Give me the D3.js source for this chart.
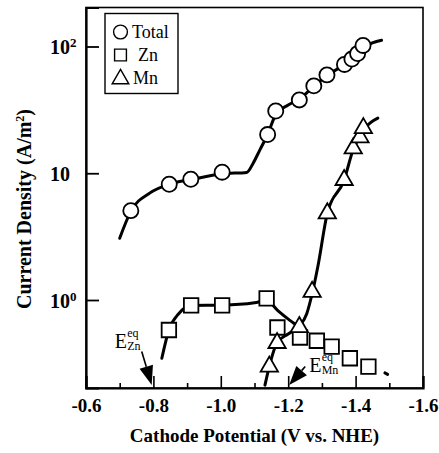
<!DOCTYPE html>
<html><head><meta charset="utf-8">
<script src="https://cdn.jsdelivr.net/npm/d3@7"></script>
<style>body{margin:0;background:#fff}svg{display:block}</style>
</head><body><svg id="c" width="439" height="453"></svg>
<script>
// ---- data ----
const totalPts = [[-0.733,5.07],[-0.847,8.19],[-0.911,8.97],[-1.004,10.2],[-1.139,20.2],[-1.163,31.0],[-1.233,37.9],[-1.276,48.9],[-1.315,59.7],[-1.367,72.2],[-1.389,79.6],[-1.406,87.9],[-1.422,102]];
const totalCurve = [[-0.700,3.07],[-0.733,5.0],[-0.79,7.0],[-0.847,8.2],[-0.911,8.9],[-1.004,9.9],[-1.077,10.15],[-1.096,12.0],[-1.116,15.3],[-1.139,20.2],[-1.163,29],[-1.20,34.5],[-1.233,38.5],[-1.276,48.5],[-1.315,59],[-1.367,72],[-1.406,87],[-1.43,100],[-1.477,112]];
const znPts = [[-0.846,0.58],[-0.912,0.908],[-1.004,0.908],[-1.136,1.03],[-1.168,0.607],[-1.235,0.506],[-1.285,0.477],[-1.329,0.428],[-1.383,0.347],[-1.438,0.298]];
const znCurve = [[-0.825,0.347],[-0.846,0.58],[-0.875,0.78],[-0.912,0.905],[-1.004,0.91],[-1.10,0.95],[-1.136,0.99],[-1.17,0.82],[-1.205,0.69],[-1.233,0.61]];
const znTail = [[-1.487,0.266],[-1.495,0.259]];
const mnPts = [[-1.144,0.298],[-1.167,0.458],[-1.233,0.612],[-1.271,1.16],[-1.316,4.83],[-1.366,8.85],[-1.393,15.7],[-1.413,19.2],[-1.423,22.7]];
const mnCurve = [[-1.131,0.213],[-1.144,0.30],[-1.167,0.46],[-1.20,0.54],[-1.233,0.62],[-1.255,0.78],[-1.271,1.12],[-1.289,1.9],[-1.316,4.83],[-1.366,8.85],[-1.393,15.4],[-1.413,19.6],[-1.43,23],[-1.466,27.2]];
const xMajor = [-0.6,-0.8,-1.0,-1.2,-1.4,-1.6];
const xMajorLabels = ["-0.6","-0.8","-1.0","-1.2","-1.4","-1.6"];
const xMinor = [-0.7,-0.9,-1.1,-1.3,-1.5];
const yTicks = [1,10,100];
const yTickBase = ["10","10","10"];
const yTickSup = ["0","","2"];
const legendNames = ["Total","Zn","Mn"];
const eqNames = ["Zn","Mn"];
const eqPotentials = [-0.795,-1.203];

// ---- layout ----
const L=86,R=423,T=7.5,B=388;
const svg=d3.select("#c");
const x=d3.scaleLinear().domain([-0.6,-1.6]).range([L,R]);
const dec=126.75;
const y=d3.scaleLog().domain([Math.pow(10,-(B-300)/dec),Math.pow(10,2+(46.5-T)/dec)]).range([B,T]);
const serif="'Liberation Serif','Times New Roman',serif";

// frame
svg.append("rect").attr("x",L).attr("y",T).attr("width",R-L).attr("height",B-T)
  .attr("fill","none").attr("stroke","#000").attr("stroke-width",1.6);

// x axis
const gx=svg.append("g").attr("transform",`translate(0,${B})`)
  .call(d3.axisBottom(x).tickValues(xMajor).tickSize(-12).tickPadding(11).tickFormat((d,i)=>xMajorLabels[i]));
gx.select(".domain").attr("stroke-width",2.2);
gx.selectAll(".tick line").attr("stroke-width",1.6);
gx.selectAll("text").attr("font-family",serif).attr("font-weight","bold").attr("font-size",19);
const gxm=svg.append("g").attr("transform",`translate(0,${B})`)
  .call(d3.axisBottom(x).tickValues(xMinor).tickSize(-5).tickFormat(""));
gxm.select(".domain").remove();
gxm.selectAll(".tick line").attr("stroke-width",1.6);

// y axis
const gy=svg.append("g").attr("transform",`translate(${L},0)`)
  .call(d3.axisLeft(y).tickValues(yTicks).tickSize(-13).tickFormat(""));
gy.select(".domain").attr("stroke-width",2.2);
gy.selectAll(".tick line").attr("stroke-width",1.8);
gy.selectAll(".tick").each(function(d,i){
  const t=d3.select(this).append("text").attr("x",-36).attr("dy","0.35em")
    .attr("text-anchor","start").attr("font-family",serif).attr("font-weight","bold")
    .attr("font-size",20).attr("fill","#000");
  t.append("tspan").text(yTickBase[i]);
  if(yTickSup[i]) t.append("tspan").attr("dy",-7).attr("font-size",13).text(yTickSup[i]);
});

// axis titles
svg.append("text").attr("x",(L+R)/2).attr("y",442).attr("text-anchor","middle")
  .attr("font-family",serif).attr("font-weight","bold").attr("font-size",19)
  .text("Cathode Potential (V vs. NHE)");
const yl=svg.append("text").attr("transform",`translate(31,209) rotate(-90)`).attr("text-anchor","middle")
  .attr("font-family",serif).attr("font-weight","bold").attr("font-size",20);
yl.append("tspan").text("Current Density (A/m");
yl.append("tspan").attr("dy",-7).attr("font-size",12).text("2");
yl.append("tspan").attr("dy",7).text(")");

// curves
const line=d3.line().x(d=>x(d[0])).y(d=>y(d[1])).curve(d3.curveMonotoneX);
[[totalCurve,3],[znCurve,3],[mnCurve,3],[znTail,3]].forEach(([c,w])=>{
  svg.append("path").attr("d",line(c)).attr("fill","none").attr("stroke","#000")
    .attr("stroke-width",w).attr("stroke-linecap","round");
});

// markers
const sym={circle:d3.symbol().type(d3.symbolCircle).size(180),
  square:d3.symbol().type(d3.symbolSquare).size(210),
  tri:d3.symbol().type(d3.symbolTriangle).size(130)};
function marks(pts,s){
  svg.append("g").selectAll("path").data(pts).join("path")
    .attr("transform",d=>`translate(${x(d[0])},${y(d[1])})`)
    .attr("d",s).attr("fill","#fff").attr("stroke","#000").attr("stroke-width",1.8);
}
marks(znPts,sym.square);
marks(totalPts,sym.circle);
marks(mnPts,sym.tri);

// legend
svg.append("rect").attr("x",105).attr("y",13.5).attr("width",73).attr("height",80)
  .attr("fill","#fff").attr("stroke","#000").attr("stroke-width",1.4);
const legSyms=[d3.symbol().type(d3.symbolCircle).size(150),d3.symbol().type(d3.symbolSquare).size(140),d3.symbol().type(d3.symbolTriangle).size(120)];
const legTx=[132,138,133];
legendNames.forEach((n,i)=>{
  const cy=32+i*23;
  svg.append("path").attr("transform",`translate(120.5,${cy+(i==2?1:0)})`).attr("d",legSyms[i]())
    .attr("fill","#fff").attr("stroke","#000").attr("stroke-width",1.4);
  svg.append("text").attr("x",legTx[i]).attr("y",cy+6).attr("font-family",serif)
    .attr("font-size",18).text(n);
});

// equilibrium potential annotations
const arrows=[{tail:[-10,-33.5],txt:[-37,-37]},{tail:[16,-18.5],txt:[20,-13.5]}];
eqPotentials.forEach((v,i)=>{
  const tx=x(v), ty=B-3;
  const a=arrows[i];
  const sx=tx+a.tail[0], sy=ty+a.tail[1];
  const dx=tx-sx, dy=ty-sy, len=Math.hypot(dx,dy), ux=dx/len, uy=dy/len;
  const hl=19, hw=7;
  const bx=tx-ux*hl, by=ty-uy*hl;
  svg.append("line").attr("x1",sx).attr("y1",sy).attr("x2",bx).attr("y2",by)
    .attr("stroke","#000").attr("stroke-width",1.6);
  svg.append("path").attr("d",`M${tx},${ty}L${bx-uy*hw},${by+ux*hw}L${bx+uy*hw},${by-ux*hw}Z`).attr("fill","#000");
  const ex=tx+a.txt[0], ey=ty+a.txt[1];
  const g=svg.append("text").attr("font-family",serif).attr("font-size",20);
  g.append("tspan").attr("x",ex).attr("y",ey).text("E");
  g.append("tspan").attr("x",ex+12.5).attr("y",ey-11).attr("font-size",12).text("eq");
  g.append("tspan").attr("x",ex+12.5).attr("y",ey+2).attr("font-size",12).text(eqNames[i]);
});
</script></body></html>
